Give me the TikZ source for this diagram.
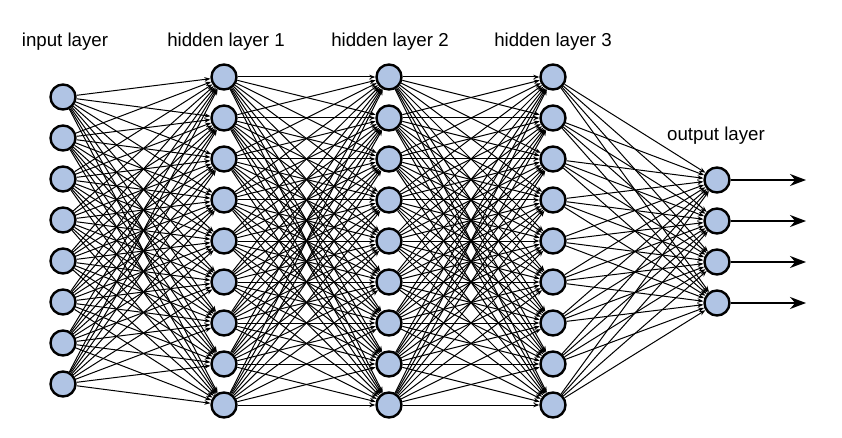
\documentclass[tikz,border=0pt]{standalone}
\usepackage{fontspec}
\setmainfont{Liberation Sans}
\usetikzlibrary{arrows.meta}
\definecolor{nodefill}{RGB}{176,196,228}
\begin{document}
\begin{tikzpicture}[x=1pt,y=-1pt,
  neuron/.style={circle,draw=black,line width=2.4pt,fill=nodefill,minimum size=25pt,inner sep=0pt},
  conn/.style={line width=1pt,-{Stealth[length=6pt,width=4.5pt]}},
  outarrow/.style={line width=2pt,-{Stealth[length=16pt,width=12pt]}},
  lbl/.style={font=\fontsize{18.7}{22}\selectfont,anchor=base}]
\useasboundingbox (0,0) rectangle (842,438);
% labels
\node[lbl] (L0) at (65,47) {input layer};
\node[lbl] (L1) at (226,47) {hidden layer 1};
\node[lbl] (L2) at (390,47) {hidden layer 2};
\node[lbl] (L3) at (553,47) {hidden layer 3};
\node[lbl] (L4) at (716,141) {output layer};
% nodes
\foreach \i in {1,...,8} \node[neuron] (I\i) at (63,{97+41*(\i-1)}) {};
\foreach \i in {1,...,9} \node[neuron] (A\i) at (224,{77+41*(\i-1)}) {};
\foreach \i in {1,...,9} \node[neuron] (B\i) at (389,{77+41*(\i-1)}) {};
\foreach \i in {1,...,9} \node[neuron] (C\i) at (553,{77+41*(\i-1)}) {};
\foreach \i in {1,...,4} \node[neuron] (O\i) at (717,{180+41*(\i-1)}) {};
% connections
\foreach \i in {1,...,8} \foreach \j in {1,...,9} \draw[conn] (I\i) -- (A\j);
\foreach \i in {1,...,9} \foreach \j in {1,...,9} \draw[conn] (A\i) -- (B\j);
\foreach \i in {1,...,9} \foreach \j in {1,...,9} \draw[conn] (B\i) -- (C\j);
\foreach \i in {1,...,9} \foreach \j in {1,...,4} \draw[conn] (C\i) -- (O\j);
% outputs
\foreach \i in {1,...,4} {
  \coordinate (E\i) at (806,{180+41*(\i-1)});
  \draw[outarrow] (O\i) -- (E\i);
}
\end{tikzpicture}
\end{document}
